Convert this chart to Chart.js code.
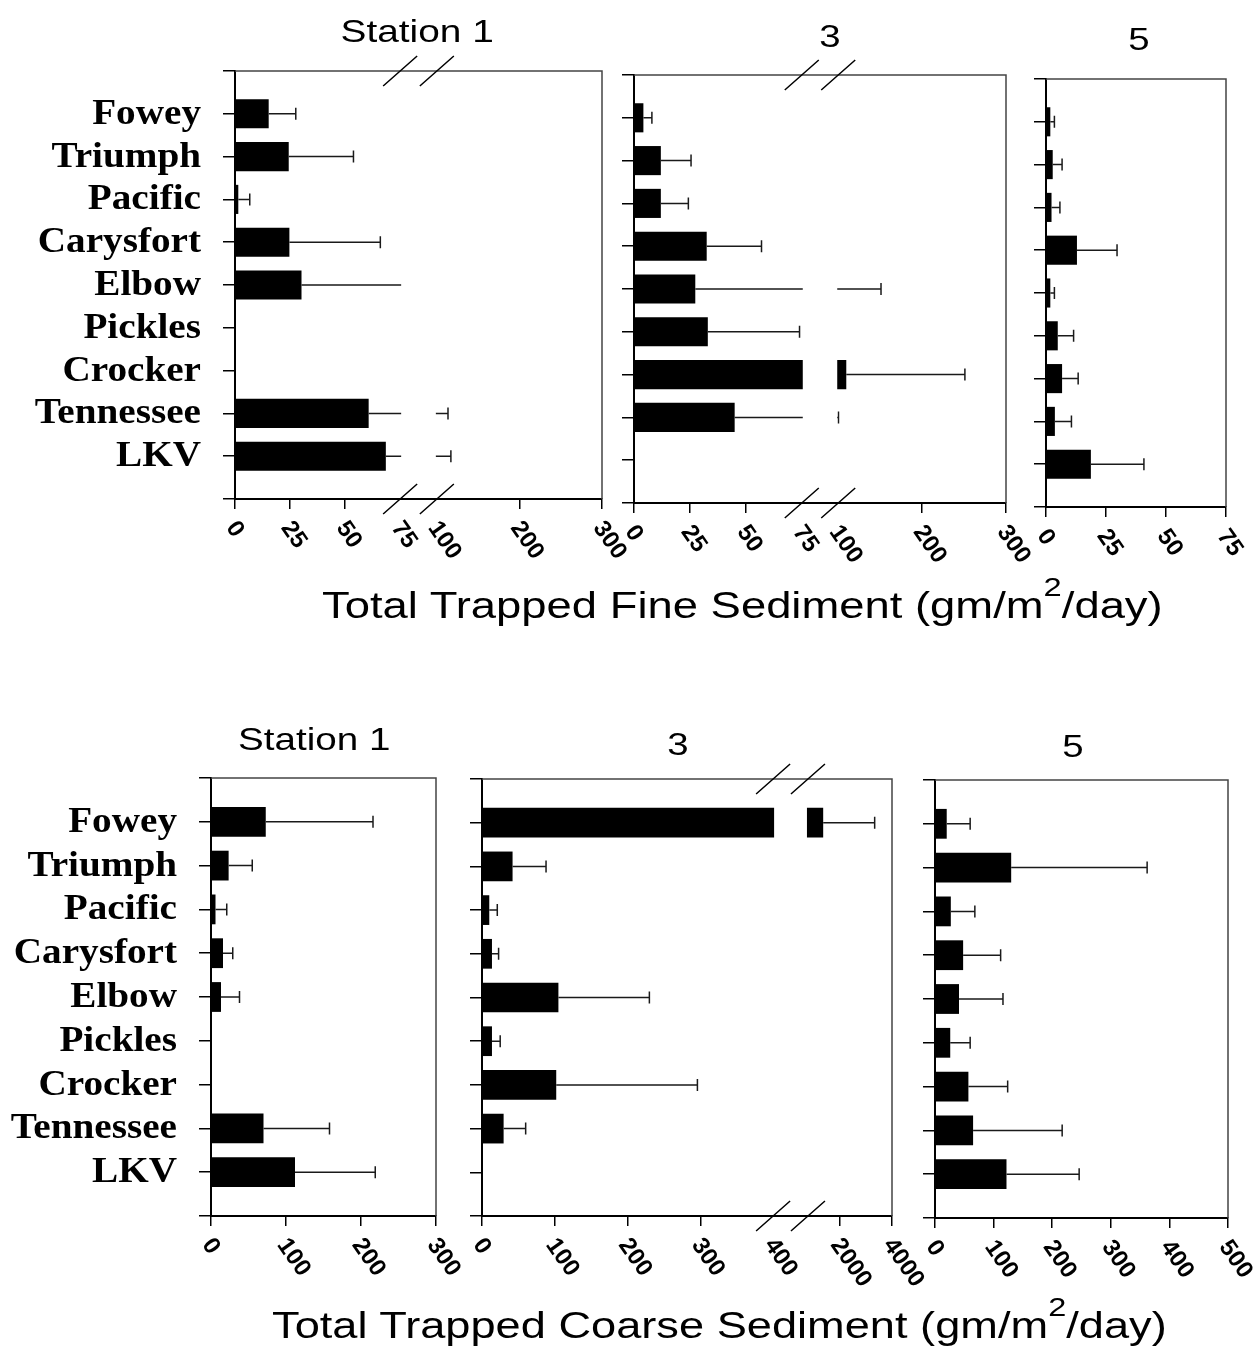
<!DOCTYPE html>
<html lang="en">
<head>
<meta charset="UTF-8">
<title>Total Trapped Sediment by Station</title>
<script src="https://cdn.jsdelivr.net/npm/chart.js"></script>
<style>
    body { margin: 0; background: #fff; }
    #page { position: relative; width: 1260px; height: 1351px; overflow: hidden; background: #fff; }
    .panel { position: absolute; }
    .txt {
        position: absolute;
        font-family: "Liberation Sans", Arial, sans-serif;
        color: #000;
        white-space: nowrap;
        line-height: 1;
        transform-origin: center;
    }
    .txt sup { font-size: 0.72em; vertical-align: 22px; line-height: 0; }
</style>
</head>
<body>
<div id="page">
    <div class="panel" id="w-fine1"><canvas id="fine1"></canvas></div>
    <div class="panel" id="w-fine3"><canvas id="fine3"></canvas></div>
    <div class="panel" id="w-fine5"><canvas id="fine5"></canvas></div>
    <div class="panel" id="w-coarse1"><canvas id="coarse1"></canvas></div>
    <div class="panel" id="w-coarse3"><canvas id="coarse3"></canvas></div>
    <div class="panel" id="w-coarse5"><canvas id="coarse5"></canvas></div>

    <div class="txt" data-cx="417" data-top="15" data-w="153" style="font-size:32px">Station 1</div>
    <div class="txt" data-cx="830" data-top="20" style="font-size:32px">3</div>
    <div class="txt" data-cx="1139" data-top="23" style="font-size:32px">5</div>
    <div class="txt" data-cx="742" data-top="587" data-w="841" style="font-size:36px">Total Trapped Fine Sediment (gm/m<sup>2</sup>/day)</div>

    <div class="txt" data-cx="314" data-top="723" data-w="152" style="font-size:32px">Station 1</div>
    <div class="txt" data-cx="678" data-top="728" style="font-size:32px">3</div>
    <div class="txt" data-cx="1073" data-top="730" style="font-size:32px">5</div>
    <div class="txt" data-cx="719" data-top="1307" data-w="895" style="font-size:36px">Total Trapped Coarse Sediment (gm/m<sup>2</sup>/day)</div>
</div>

<script>
    const categories = ['Fowey', 'Triumph', 'Pacific', 'Carysfort', 'Elbow', 'Pickles', 'Crocker', 'Tennessee', 'LKV'];

    // fine sediment (gm/m2/day): bar = mean, whisker = upper end
    const fineS1Mean  = [15.3, 24.4, 1.5, 24.7, 30.2, null, null, 60.7, 68.5];
    const fineS1Upper = [27.6, 53.8, 6.7, 66, 90, null, null, 113.5, 117];
    const fineS3Mean  = [4.2, 12, 12, 32.5, 27.4, 33, 109.6, 45, null];
    const fineS3Upper = [8, 25.5, 24.3, 57, 151, 74, 251, 100.3, null];
    const fineS5Mean  = [1.8, 2.8, 2.3, 12.9, 1.8, 4.9, 6.7, 3.7, 18.7];
    const fineS5Upper = [3.5, 6.7, 5.8, 29.6, 3.5, 11.5, 13.4, 10.6, 40.8];

    // coarse sediment (gm/m2/day)
    const coarseS1Mean  = [73, 23.5, 6, 16, 13.3, null, null, 70, 112];
    const coarseS1Upper = [216, 55, 21, 29, 38, null, null, 158, 219];
    const coarseS3Mean  = [1380, 42, 10, 13.7, 105, 13.7, 102, 29.7, null];
    const coarseS3Upper = [3340, 88, 21, 22.8, 230, 25, 296, 60, null];
    const coarseS5Mean  = [20, 130, 27, 48, 41, 26, 57, 65, 122];
    const coarseS5Upper = [60, 362, 68, 112, 116, 60, 124, 217, 246];

    // tick labels
    const fineTicksWide   = [0, 25, 50, 75, 100, 200, 300];
    const fineTicksNarrow = [0, 25, 50, 75];
    const coarseTicks1    = [0, 100, 200, 300];
    const coarseTicks3    = [0, 100, 200, 300, 400, 2000, 4000];
    const coarseTicks5    = [0, 100, 200, 300, 400, 500];

    // plot rectangles on the page [left, top, right, bottom] and broken-axis shape
    // points: value -> fraction of axis length, breaks: [from, to] hidden ranges
    const layout = {
        fine1:   { rect: [235, 71, 602, 499],   labels: true,  ticks: fineTicksWide,   points: [[0, 0], [75, 0.45], [100, 0.55], [300, 1]], breaks: [[75, 100]] },
        fine3:   { rect: [634, 75, 1006, 503],  labels: false, ticks: fineTicksWide,   points: [[0, 0], [75, 0.451], [100, 0.549], [300, 1]], breaks: [[75, 100]] },
        fine5:   { rect: [1046, 79, 1226, 507], labels: false, ticks: fineTicksNarrow, points: [[0, 0], [75, 1]], breaks: [] },
        coarse1: { rect: [211, 778, 436, 1216], labels: true,  ticks: coarseTicks1,    points: [[0, 0], [300, 1]], breaks: [] },
        coarse3: { rect: [482, 779, 892, 1216], labels: false, ticks: coarseTicks3,    points: [[0, 0], [400, 0.71], [800, 0.795], [4000, 1]], breaks: [[400, 800]] },
        coarse5: { rect: [935, 780, 1228, 1218], labels: false, ticks: coarseTicks5,   points: [[0, 0], [500, 1]], breaks: [] }
    };

    const PAD_T = 26, PAD_R = 60, AXIS_H = 80;

    // linear scale with piecewise mapping, used for the broken axes
    class BrokenScale extends Chart.LinearScale {
        cfg() { return layout[this.chart.canvas.id]; }
        determineDataLimits() {
            const pts = this.cfg().points;
            this.min = pts[0][0];
            this.max = pts[pts.length - 1][0];
        }
        buildTicks() {
            return this.cfg().ticks.map(v => ({ value: v }));
        }
        getPixelForValue(v) {
            const pts = this.cfg().points;
            let f = pts[pts.length - 1][1];
            for (let i = 1; i < pts.length; i++) {
                if (v <= pts[i][0]) {
                    const [v0, f0] = pts[i - 1], [v1, f1] = pts[i];
                    f = f0 + (v - v0) / (v1 - v0) * (f1 - f0);
                    break;
                }
            }
            return this.getPixelForDecimal(f);
        }
        getValueForPixel(px) {
            const pts = this.cfg().points;
            const f = this.getDecimalForPixel(px);
            for (let i = 1; i < pts.length; i++) {
                if (f <= pts[i][1]) {
                    const [v0, f0] = pts[i - 1], [v1, f1] = pts[i];
                    return v0 + (f - f0) / (f1 - f0) * (v1 - v0);
                }
            }
            return pts[pts.length - 1][0];
        }
    }
    BrokenScale.id = 'broken';
    Chart.register(BrokenScale);

    const isBreakValue = (cfg, v) => cfg.breaks.some(b => b[0] === v || b[1] === v);

    const decor = {
        id: 'decor',
        afterDraw(chart) {
            const cfg = layout[chart.canvas.id];
            const { ctx, chartArea: a } = chart;
            const x = chart.scales.x, y = chart.scales.y;
            const ds = chart.data.datasets[0];
            ctx.save();

            // error whiskers
            ctx.strokeStyle = '#1a1a1a';
            ctx.lineWidth = 1.5;
            ds.data.forEach((m, i) => {
                const u = ds.upper[i];
                if (m == null || u == null) return;
                const py = y.getPixelForValue(i);
                const x0 = x.getPixelForValue(m), x1 = x.getPixelForValue(u);
                ctx.beginPath();
                ctx.moveTo(x0, py);
                ctx.lineTo(x1, py);
                ctx.moveTo(x1, py - 6);
                ctx.lineTo(x1, py + 6);
                ctx.stroke();
            });

            // blank out the hidden range of a broken axis
            ctx.fillStyle = '#fff';
            cfg.breaks.forEach(([v0, v1]) => {
                const xa = x.getPixelForValue(v0), xb = x.getPixelForValue(v1);
                ctx.fillRect(xa + 1, a.top + 1.5, xb - xa - 2, a.bottom - a.top - 3);
            });

            // top and right frame
            ctx.strokeStyle = '#444';
            ctx.lineWidth = 1.5;
            ctx.beginPath();
            ctx.moveTo(a.left, a.top);
            ctx.lineTo(a.right, a.top);
            ctx.lineTo(a.right, a.bottom);
            ctx.stroke();

            // break marks
            ctx.strokeStyle = '#000';
            ctx.lineWidth = 1.5;
            ctx.beginPath();
            cfg.breaks.forEach(b => b.forEach(v => {
                const px = x.getPixelForValue(v);
                [a.top, a.bottom].forEach(py => {
                    ctx.moveTo(px - 17, py + 15);
                    ctx.lineTo(px + 17, py - 15);
                });
            }));
            ctx.stroke();

            // slanted tick labels
            ctx.fillStyle = '#000';
            ctx.font = 'bold 24px "Liberation Sans", Arial, sans-serif';
            ctx.textAlign = 'left';
            ctx.textBaseline = 'middle';
            cfg.ticks.forEach(v => {
                const px = x.getPixelForValue(v);
                ctx.save();
                ctx.translate(px - 4, a.bottom + 25);
                ctx.rotate(55 * Math.PI / 180);
                ctx.fillText(String(v), 0, 0);
                ctx.restore();
            });

            // station names, a little wide like the scan
            if (cfg.labels) {
                ctx.font = 'bold 35px "Liberation Serif", "Times New Roman", serif';
                ctx.textAlign = 'right';
                ctx.textBaseline = 'middle';
                chart.data.labels.forEach((name, i) => {
                    if (!name) return;
                    ctx.save();
                    ctx.translate(a.left - 34, y.getPixelForValue(i) + 1);
                    ctx.scale(1.12, 1);
                    ctx.fillText(name, 0, 0);
                    ctx.restore();
                });
            }

            ctx.restore();
        }
    };

    function makePanel(id, mean, upper) {
        const cfg = layout[id];
        const [l, t, r, b] = cfg.rect;
        const yw = cfg.labels ? l : 14;
        const wrap = document.getElementById('w-' + id);
        wrap.style.left = (l - yw) + 'px';
        wrap.style.top = (t - PAD_T) + 'px';
        wrap.style.width = (r - l + yw + PAD_R) + 'px';
        wrap.style.height = (b - t + PAD_T + AXIS_H) + 'px';

        new Chart(document.getElementById(id), {
            type: 'bar',
            data: {
                labels: ['', ...categories, ''],
                datasets: [{
                    data: [null, ...mean, null],
                    upper: [null, ...upper, null],
                    backgroundColor: '#000',
                    borderWidth: 0,
                    barPercentage: 0.68,
                    categoryPercentage: 1
                }]
            },
            options: {
                indexAxis: 'y',
                responsive: true,
                maintainAspectRatio: false,
                animation: false,
                events: [],
                layout: { padding: { top: PAD_T, right: PAD_R, left: 0, bottom: 0 } },
                plugins: { legend: { display: false }, tooltip: { enabled: false } },
                scales: {
                    x: {
                        type: 'broken',
                        position: 'bottom',
                        afterFit: s => { s.height = AXIS_H; },
                        grid: {
                            drawOnChartArea: false,
                            tickLength: 10,
                            lineWidth: 1.5,
                            color: c => (c.tick && isBreakValue(cfg, c.tick.value)) ? 'rgba(0,0,0,0)' : '#000'
                        },
                        border: { color: '#000', width: 2 },
                        ticks: { display: false }
                    },
                    y: {
                        type: 'category',
                        offset: false,
                        afterFit: s => { s.width = yw; },
                        grid: { drawOnChartArea: false, offset: false, tickLength: 12, lineWidth: 1.5, color: '#000' },
                        border: { color: '#000', width: 2 },
                        ticks: { display: false }
                    }
                }
            },
            plugins: [decor]
        });
    }

    makePanel('fine1', fineS1Mean, fineS1Upper);
    makePanel('fine3', fineS3Mean, fineS3Upper);
    makePanel('fine5', fineS5Mean, fineS5Upper);
    makePanel('coarse1', coarseS1Mean, coarseS1Upper);
    makePanel('coarse3', coarseS3Mean, coarseS3Upper);
    makePanel('coarse5', coarseS5Mean, coarseS5Upper);

    // place the titles, stretched sideways like the scanned figure
    document.querySelectorAll('.txt').forEach(el => {
        const w = el.offsetWidth;
        const s = el.dataset.w ? el.dataset.w / w : 1.2;
        el.style.left = (el.dataset.cx - w / 2) + 'px';
        el.style.top = el.dataset.top + 'px';
        el.style.transform = 'scaleX(' + s + ')';
    });
</script>
</body>
</html>
